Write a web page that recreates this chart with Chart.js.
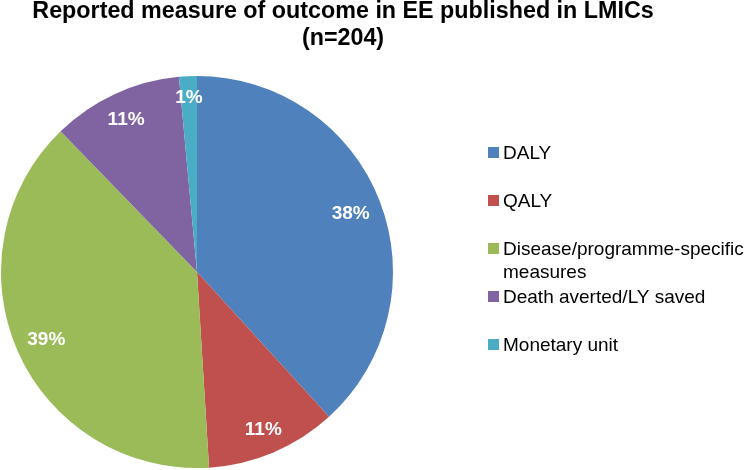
<!DOCTYPE html>
<html>
<head>
<meta charset="utf-8">
<script src="https://cdn.jsdelivr.net/npm/chart.js@4/dist/chart.umd.min.js"></script>
<style>
  html, body { margin: 0; padding: 0; background: #ffffff; }
  #chart { display: block; }
</style>
</head>
<body>
<canvas id="chart" width="750" height="470"></canvas>
<script>
const titleLines = ["Reported measure of outcome in EE published in LMICs", "(n=204)"];
const categories = ["DALY", "QALY", "Disease/programme-specific measures", "Death averted/LY saved", "Monetary unit"];
const counts = [78, 22, 79, 22, 3];
const sliceColors = ["#4F81BD", "#C0504D", "#9BBB59", "#8064A2", "#4BACC6"];

const FONT = "'Liberation Sans', Arial, Helvetica, sans-serif";

// title, percentage labels and legend drawn by hand (Excel-like placement)
const excelBits = {
    id: "excelBits",
    afterDraw(chart) {
        const ctx = chart.ctx;
        ctx.save();

        // title
        ctx.fillStyle = "#000000";
        ctx.textAlign = "center";
        ctx.textBaseline = "alphabetic";
        ctx.font = "bold 23.3px " + FONT;
        ctx.fillText(titleLines[0], 343, 18);
        ctx.fillText(titleLines[1], 343, 45);

        // percentage labels, "inside end"
        const meta = chart.getDatasetMeta(0);
        const values = chart.data.datasets[0].data;
        const total = values.reduce((a, b) => a + b, 0);
        ctx.font = "bold 19px " + FONT;
        ctx.fillStyle = "#ffffff";
        meta.data.forEach((arc, i) => {
            const p = arc.getProps(["x", "y", "startAngle", "endAngle", "outerRadius"], true);
            const mid = (p.startAngle + p.endAngle) / 2;
            const txt = Math.round(values[i] / total * 100) + "%";
            const w = ctx.measureText(txt).width;
            const ext = (w / 2) * Math.abs(Math.cos(mid)) + 9.5 * Math.abs(Math.sin(mid));
            const d = p.outerRadius - 10 - ext;
            const cx = p.x + Math.cos(mid) * d;
            const cy = p.y + Math.sin(mid) * d;
            ctx.fillText(txt, cx, cy + 6.8);
        });

        // legend
        ctx.font = "19px " + FONT;
        ctx.textAlign = "left";
        const colors = chart.data.datasets[0].backgroundColor;
        const maxW = 750 - 503 - 2;
        chart.data.labels.forEach((label, i) => {
            const base = 159 + i * 48;
            ctx.fillStyle = colors[i];
            ctx.fillRect(488, base - 12, 11, 11);
            ctx.fillStyle = "#000000";
            // wrap long labels
            const words = label.split(" ");
            const lines = [];
            let line = "";
            words.forEach(wd => {
                const test = line ? line + " " + wd : wd;
                if (ctx.measureText(test).width > maxW && line) {
                    lines.push(line);
                    line = wd;
                } else {
                    line = test;
                }
            });
            lines.push(line);
            lines.forEach((ln, k) => ctx.fillText(ln, 503, base + k * 23));
        });

        ctx.restore();
    }
};

new Chart(document.getElementById("chart"), {
    type: "pie",
    data: {
        labels: categories,
        datasets: [{
            data: counts,
            backgroundColor: sliceColors,
            borderWidth: 0
        }]
    },
    options: {
        responsive: false,
        devicePixelRatio: 1,
        animation: false,
        layout: { padding: { left: 1, right: 357, top: 76, bottom: 2 } },
        plugins: {
            legend: { display: false },
            title: { display: false },
            tooltip: { enabled: false }
        }
    },
    plugins: [excelBits]
});
</script>
</body>
</html>
